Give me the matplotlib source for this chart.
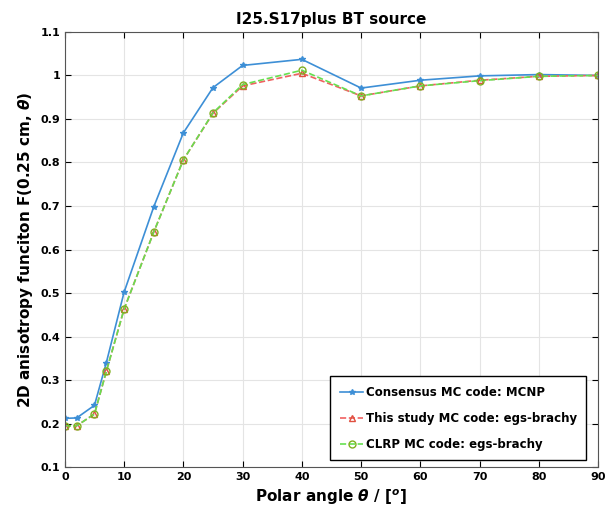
import matplotlib
matplotlib.use('Agg')
import matplotlib.pyplot as plt

# Polar angles and F(0.25 cm, theta)

theta = [0, 2, 5, 7, 10, 15, 20, 25, 30, 40, 50, 60, 70, 80, 90]
f_mcnp = [0.212, 0.213, 0.242, 0.340, 0.502, 0.698, 0.868, 0.972, 1.023, 1.037,
          0.971, 0.989, 0.999, 1.002, 1.000]
f_this = [0.195, 0.195, 0.222, 0.320, 0.463, 0.640, 0.806, 0.913, 0.976, 1.005,
          0.953, 0.976, 0.989, 0.998, 1.000]
f_clrp = [0.195, 0.195, 0.222, 0.320, 0.463, 0.640, 0.806, 0.914, 0.979, 1.012,
          0.953, 0.976, 0.988, 0.998, 1.000]

xticks = list(range(0, 91, 10))
yticks = [0.1, 0.2, 0.3, 0.4, 0.5, 0.6, 0.7, 0.8, 0.9, 1, 1.1]
yticklabels = ['0.1', '0.2', '0.3', '0.4', '0.5', '0.6', '0.7', '0.8', '0.9', '1', '1.1']

plt.rcParams['font.family'] = ['DejaVu Sans']
plt.rcParams['font.weight'] = 'bold'

fig = plt.figure(figsize=(6.06, 5.15), dpi=100)
ax = fig.add_axes([0.107, 0.093, 0.880, 0.845])

ax.plot(theta, f_mcnp, '-', color='#3d8fd6', lw=1.2, marker='*', ms=4,
        label='Consensus MC code: MCNP')
ax.plot(theta, f_this, '--', color='#f06060', lw=1.2, marker='^', ms=5,
        mfc='none', mec='#e05040', label='This study MC code: egs-brachy')
ax.plot(theta, f_clrp, '--', color='#66e050', lw=1.2, marker='o', ms=5,
        mfc='none', mec='#80b020', label='CLRP MC code: egs-brachy')

ax.set_xlim(0, 90)
ax.set_ylim(0.1, 1.1)
ax.set_xticks(xticks)
ax.set_yticks(yticks)
ax.set_yticklabels(yticklabels)
ax.tick_params(direction='in', top=True, right=True, labelsize=8, length=4,
               width=0.8)
for lab in ax.get_xticklabels() + ax.get_yticklabels():
    lab.set_fontweight('bold')
ax.grid(True, color='#e4e4e4', lw=0.8)
for s in ax.spines.values():
    s.set_color('#555555')

ax.set_xlabel(r'Polar angle $\theta$ / [$^o$]', fontsize=11, fontweight='bold')
ax.set_ylabel(r'2D anisotropy funciton F(0.25 cm, $\theta$)', fontsize=11,
              fontweight='bold')
ax.set_title('I25.S17plus BT source', fontsize=11, fontweight='bold', pad=6)

leg = ax.legend(loc='lower right', fontsize=8.5, fancybox=False, framealpha=1,
                edgecolor='black', handlelength=2.0, borderpad=0.8,
                labelspacing=1.1, handletextpad=0.2, borderaxespad=0,
                bbox_to_anchor=(0.978, 0.016))
for t in leg.get_texts():
    t.set_fontweight('bold')

fig.savefig('out.png', dpi=100)
